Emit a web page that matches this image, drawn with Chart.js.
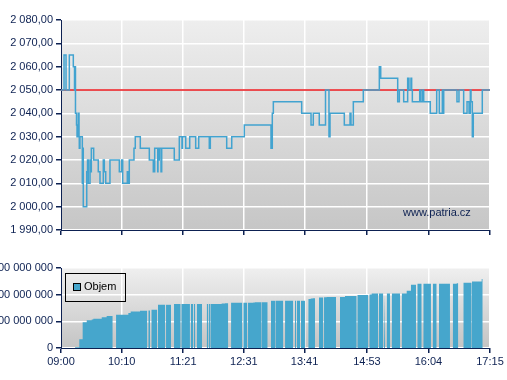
<!DOCTYPE html>
<html><head><meta charset="utf-8">
<script src="https://cdn.jsdelivr.net/npm/chart.js@4.4.0/dist/chart.umd.min.js"></script>
<style>
html,body{margin:0;padding:0;background:#fff;width:507px;height:380px;overflow:hidden;}
#wrap{position:relative;width:507px;height:380px;}
canvas{position:absolute;left:0;}
#c1{top:0;}
#c2{top:245px;}
#legend{position:absolute;left:65px;top:273px;width:61px;height:29px;box-sizing:border-box;border:1px solid #000;font:11px 'Liberation Sans',Arial,sans-serif;color:#000;}
#legend .sw{position:absolute;left:7px;top:9px;width:8px;height:8px;box-sizing:border-box;border:1px solid #000;background:#46a6cc;}
#legend .tx{position:absolute;left:18px;top:6px;line-height:13px;}
#wm{position:absolute;left:403px;top:206px;font:11px 'Liberation Sans',Arial,sans-serif;color:#0d2152;line-height:13px;}
</style></head>
<body><div id="wrap">
<canvas id="c1" width="507" height="245"></canvas>
<canvas id="c2" width="507" height="135"></canvas>
<div id="wm">www.patria.cz</div>
<div id="legend"><div class="sw"></div><div class="tx">Objem</div></div>
</div>
<script>
// ---- data ----
const timeLabels = ['09:00','10:10','11:21','12:31','13:41','14:53','16:04','17:15'];
const referencePrice = 2050;
// [minutes after 09:00, price] - each price holds until the next entry
const priceSeries = [
[0,2050],[3.5,2065],[5.8,2050],[9.6,2065],[14.2,2060],[15.6,2050],[16.2,2060],[16.7,2040],
[17.9,2035],[18.5,2030],[20.0,2040],[20.8,2030],[21.1,2025],[21.9,2030],[24.6,2010],[25.0,2025],
[25.7,2000],[29.7,2015],[30.6,2020],[31.5,2010],[33.5,2020],[34.3,2015],[35.0,2025],[37.7,2020],
[43.0,2015],[45.0,2010],[48.8,2020],[50.0,2015],[51.6,2010],[56.5,2020],[67.3,2015],[70.0,2020],
[71.2,2010],[76.5,2015],[77.7,2010],[78.8,2020],[84.2,2025],[85.7,2030],[91.5,2025],[101.9,2020],
[106.5,2015],[108.1,2025],[111.6,2015],[111.9,2025],[112.7,2020],[113.4,2025],[115.4,2015],[116.2,2025],
[130.7,2020],[136.5,2030],[139.6,2025],[140.2,2030],[143.9,2025],[148.5,2030],[155.4,2025],[158.9,2030],
[171.1,2025],[172.3,2030],[191.2,2025],[197.0,2030],[211.5,2035],[242.3,2025],[243.8,2040],[245.0,2045],
[277.7,2040],[288.5,2035],[291.1,2040],[298.0,2035],[305.2,2050],[309.2,2030],[310.4,2040],[326.9,2035],
[333.5,2040],[334.6,2035],[337.3,2045],[348.8,2050],[367.3,2060],[368.9,2055],[388.5,2045],[390.4,2050],
[395.4,2045],[400.0,2055],[401.5,2050],[403.8,2055],[404.6,2050],[405.4,2045],[413.9,2050],[415.4,2045],
[417.4,2050],[418.5,2045],[426.1,2040],[433.5,2050],[436.5,2040],[440.0,2050],[440.8,2040],[441.6,2050],
[456.9,2045],[459.2,2050],[464.6,2040],[468.5,2045],[470.8,2040],[472.3,2050],[473.1,2045],[474.6,2030],
[475.7,2040],[486.1,2050],[495,2050]
];
// [start minute, end minute, cumulative volume]
const volumeBars = [
[16.2,21.1,3000000],[21.1,25.0,33000000],[25.0,29.7,97000000],[29.7,35.4,104000000],
[35.4,37.3,107000000],[37.3,47.0,110000000],[47.0,52.7,115000000],[52.7,59.7,120000000],
[63.5,77.7,125000000],[77.7,80.4,131000000],[80.4,91.2,137000000],[91.2,99.6,140000000],
[100.7,102.7,141000000],[104.2,111.1,143000000],[111.9,120.3,162000000],[121.2,126.9,162000000],
[130.4,138.1,165000000],[138.8,148.8,165000000],[149.7,152.3,165000000],[153.1,155.0,165000000],
[156.6,162.7,165000000],[168.1,170.0,165000000],[170.4,171.9,165000000],[172.3,175.7,165000000],
[175.7,185.4,165000000],[185.4,189.2,167000000],[189.2,193.0,168000000],[196.2,209.2,170000000],
[210.3,215.0,170000000],[215.8,221.9,170000000],[221.9,223.8,171000000],[223.8,231.6,172000000],
[231.9,238.5,172000000],[242.3,246.9,177000000],[247.3,256.5,177000000],[258.5,268.0,177000000],
[270.0,271.2,177000000],[272.0,275.8,177000000],[276.9,281.5,177000000],[285.3,288.1,184000000],
[288.1,290.4,186000000],[290.4,293.1,187000000],[297.7,302.7,189000000],[303.5,306.6,190000000],
[306.6,317.3,191000000],[321.9,327.7,191000000],[327.7,341.2,195000000],[341.9,354.6,199000000],
[355.7,358.5,201000000],[358.5,366.1,204000000],[366.9,371.9,204000000],[372.7,373.8,204000000],
[375.8,379.6,204000000],[381.6,391.2,204000000],[393.1,398.9,204000000],[398.9,403.8,215000000],
[403.8,409.6,237000000],[411.1,416.2,241000000],[418.0,426.9,241000000],[428.9,433.5,241000000],
[436.2,448.8,241000000],[452.0,456.6,241000000],[456.6,458.4,243000000],[464.2,473.9,245000000],
[474.2,485.4,249000000],[485.4,486.6,259000000]
];
const priceAxis = {min:1990, max:2080, step:10};
const volumeAxis = {min:0, max:300000000, step:100000000};

// ---- helpers ----
const NAVY = '#0d2152';
const FONT = {family:"'Liberation Sans', Arial, sans-serif", size:11};
const tickMinutes = timeLabels.map(t => { const [h,m] = t.split(':').map(Number); return (h-9)*60+m; });
function fmt(v, dec){
  const s = Number(v).toFixed(dec);
  const parts = s.split('.');
  const i = parts[0].replace(/\B(?=(\d{3})+(?!\d))/g,' ');
  return parts[1] ? i + ',' + parts[1] : i;
}
function bgPlugin(c1, c2){
  return {id:'bg', beforeDraw(chart){
    const a = chart.chartArea, ctx = chart.ctx;
    const g = ctx.createLinearGradient(0,a.top,0,a.bottom);
    g.addColorStop(0,c1); g.addColorStop(1,c2);
    ctx.save(); ctx.fillStyle = g; ctx.fillRect(a.left,a.top,a.right-a.left,a.bottom-a.top); ctx.restore();
  }};
}
function xScale(showLabels, h){
  return {
    type:'linear', min:0, max:tickMinutes[tickMinutes.length-1],
    afterBuildTicks(s){ s.ticks = tickMinutes.map(v => ({value:v})); },
    afterFit(s){ s.height = h; },
    grid:{color:'#ffffff', lineWidth:1.5, tickColor:NAVY, tickLength:5},
    border:{color:NAVY, width:1},
    ticks:{display:showLabels, color:NAVY, font:FONT, padding:2, maxRotation:0, autoSkip:false,
      callback:(v,i)=>timeLabels[i]}
  };
}
Chart.defaults.animation = false;

// ---- price chart ----
new Chart(document.getElementById('c1'), {
  type:'line',
  data:{datasets:[
    {data:priceSeries.map(p=>({x:p[0],y:p[1]})), stepped:true, borderColor:'#42a3d0', borderWidth:1.5,
     pointRadius:0, fill:false, order:0},
    {data:[{x:tickMinutes[0],y:referencePrice},{x:tickMinutes[tickMinutes.length-1],y:referencePrice}],
     borderColor:'#e8141a', borderWidth:1.3, pointRadius:0, fill:false, order:1}
  ]},
  options:{
    responsive:false, maintainAspectRatio:false,
    layout:{padding:{top:20,right:17,left:0,bottom:0}},
    plugins:{legend:{display:false}, tooltip:{enabled:false}},
    scales:{
      x: xScale(false, 15),
      y:{min:priceAxis.min, max:priceAxis.max, ticks:{stepSize:priceAxis.step, color:NAVY, font:FONT, padding:3,
          callback:v=>fmt(v,2)},
         afterFit(s){ s.width = 61; },
         grid:{color:'#ffffff', lineWidth:1.5, tickColor:NAVY, tickLength:5},
         border:{color:NAVY, width:1}}
    }
  },
  plugins:[bgPlugin('#eeeeee','#c6c6c6')]
});

// ---- volume chart: contiguous bars joined, gaps broken with null ----
const volPoints = [];
volumeBars.forEach((b, i) => {
  const prev = volumeBars[i-1];
  if (prev && b[0] > prev[1]) volPoints.push({x:prev[1], y:null});
  volPoints.push({x:b[0],y:b[2]},{x:b[1],y:b[2]});
});
new Chart(document.getElementById('c2'), {
  type:'line',
  data:{datasets:[{label:'Objem', data:volPoints, borderWidth:0, borderColor:'rgba(0,0,0,0)',
    backgroundColor:'#46a6cc', fill:'origin', pointRadius:0, spanGaps:false}]},
  options:{
    responsive:false, maintainAspectRatio:false,
    layout:{padding:{top:23,right:17,left:0,bottom:0}},
    plugins:{legend:{display:false}, tooltip:{enabled:false}},
    scales:{
      x: xScale(true, 32),
      y:{min:volumeAxis.min, max:volumeAxis.max, ticks:{stepSize:volumeAxis.step, color:NAVY, font:FONT, padding:3,
          callback:v=>fmt(v,0)},
         afterFit(s){ s.width = 61; },
         grid:{color:'#ffffff', lineWidth:1.5, tickColor:NAVY, tickLength:5},
         border:{color:NAVY, width:1}}
    }
  },
  plugins:[bgPlugin('#efefef','#c4c4c4')]
});
</script>
</body></html>
